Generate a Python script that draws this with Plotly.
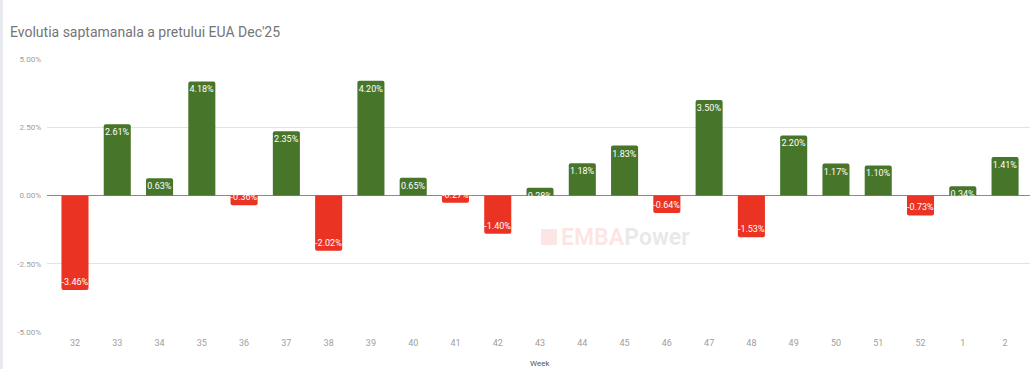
import plotly.graph_objects as go

weeks = ["32","33","34","35","36","37","38","39","40","41","42","43","44","45","46","47","48","49","50","51","52","1","2"]
changes = [-3.46, 2.61, 0.63, 4.18, -0.36, 2.35, -2.02, 4.20, 0.65, -0.27, -1.40, 0.28, 1.18, 1.83, -0.64, 3.50, -1.53, 2.20, 1.17, 1.10, -0.73, 0.34, 1.41]
y_ticks = [-5, -2.5, 0, 2.5, 5]
y_tick_labels = ["-5.00%", "-2.50%", "0.00%", "2.50%", "5.00%"]

GREEN = "#47762B"
RED = "#EA3323"
colors = [GREEN if v >= 0 else RED for v in changes]

W, H = 1030, 369
L, R, T, B = 47, 0, 59, 37
pw = W - L - R
ph = H - T - B


def px_x(x):
    return (x - L) / pw


def px_y(y):
    return ((H - B) - y) / ph


fig = go.Figure(go.Bar(
    x=weeks, y=changes,
    marker=dict(color=colors, line=dict(width=0), cornerradius=2),
    texttemplate="%{y:.2f}%",
    textposition="inside",
    insidetextanchor="end",
    textangle=0,
    textfont=dict(color="white", size=9, family="Roboto"),
    hoverinfo="skip",
))

fig.update_layout(
    width=W, height=H,
    margin=dict(l=L, r=R, t=T, b=B),
    paper_bgcolor="white", plot_bgcolor="white",
    bargap=0.36,
    showlegend=False,
    uniformtext=dict(minsize=9, mode="show"),
    font=dict(family="Roboto", color="#9e9e9e", size=9),
    title=dict(text="Evolutia saptamanala a pretului EUA Dec'25", x=10 / W, xanchor="left",
               y=1 - 32 / H, yanchor="middle",
               font=dict(family="Roboto", size=14, color="#757575")),
)

fig.update_xaxes(
    type="category",
    range=[-0.662, 22.59],
    showgrid=False, showline=False, zeroline=False,
    ticks="", tickfont=dict(size=9, color="#9e9e9e"),
    ticklabelstandoff=4,
)
fig.update_yaxes(
    range=[-5, 5],
    tickvals=y_ticks, ticktext=y_tick_labels,
    showgrid=True, gridcolor="#e3e3e3", gridwidth=1,
    zeroline=True, zerolinecolor="#8a8a8a", zerolinewidth=1,
    showline=False, ticks="",
    tickfont=dict(size=8, color="#9e9e9e"),
    ticklabelstandoff=5,
)

# x axis title, sitting at the very bottom edge as in the reference
fig.add_annotation(x=px_x(540), y=px_y(363), xref="paper", yref="paper",
                   text="Week", showarrow=False, yanchor="middle",
                   font=dict(family="Roboto", size=8, color="#555555"))

# left border strip of the page
fig.add_shape(type="rect", xref="paper", yref="paper",
              x0=px_x(0), x1=px_x(3), y0=px_y(H), y1=px_y(0),
              fillcolor="#e8eaf0", line=dict(width=0), layer="below")

# watermark (logo square + text)
fig.add_shape(type="rect", xref="paper", yref="paper",
              x0=px_x(541), x1=px_x(557), y0=px_y(245), y1=px_y(229),
              fillcolor="rgba(234,51,35,0.12)", line=dict(width=0), layer="below")
fig.add_annotation(x=px_x(559), y=px_y(237), xref="paper", yref="paper",
                   text="<span style='color:rgba(234,51,35,0.13)'><b>EMBA</b></span>"
                        "<span style='color:rgba(120,120,120,0.18)'><b>Power</b></span>",
                   showarrow=False, xanchor="left", yanchor="middle",
                   font=dict(family="Roboto", size=23))

fig.write_html("out.html", config={"displayModeBar": False},
               post_script="document.body.style.margin='0';document.body.style.overflow='hidden';")
